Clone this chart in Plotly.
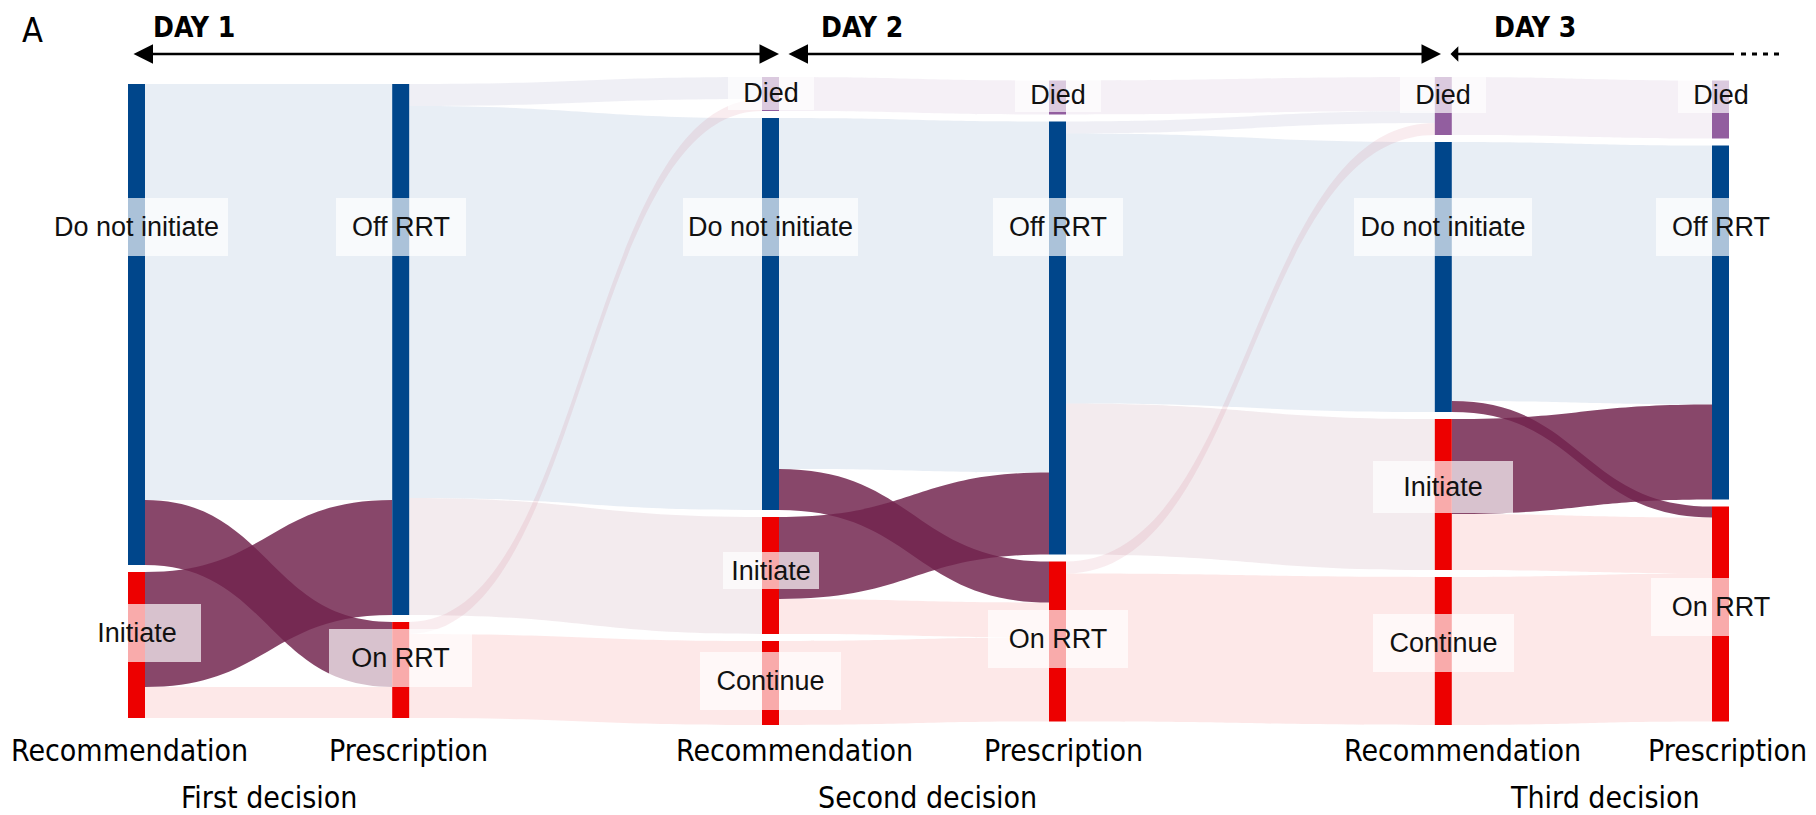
import plotly.graph_objects as go

# ---------------- data ----------------
node_names = ["Do not initiate", "Initiate",                      # day 1 recommendation
              "Off RRT", "On RRT",                                # day 1 prescription
              "Died", "Do not initiate", "Initiate", "Continue",  # day 2 recommendation
              "Died", "Off RRT", "On RRT",                        # day 2 prescription
              "Died", "Do not initiate", "Initiate", "Continue",  # day 3 recommendation
              "Died", "Off RRT", "On RRT"]                        # day 3 prescription
node_column = [0, 0, 1, 1, 2, 2, 2, 2, 3, 3, 3, 4, 4, 4, 4, 5, 5, 5]
node_kind = ["off", "on", "off", "on", "died", "off", "on", "on", "died", "off", "on",
             "died", "off", "on", "on", "died", "off", "on"]

link_source = [0, 0, 1, 1,
               2, 2, 2, 3, 3,
               4, 5, 5, 6, 6, 7,
               8, 9, 9, 9, 10, 10,
               11, 12, 12, 13, 13, 14]
link_target = [2, 3, 2, 3,
               4, 5, 6, 4, 7,
               8, 9, 10, 9, 10, 10,
               11, 11, 12, 13, 11, 14,
               15, 16, 17, 16, 17, 17]
link_value = [416, 65, 115, 31,
              22, 392, 117, 12, 84,
              34, 351, 41, 82, 35, 84,
              34, 12, 270, 151, 12, 148,
              58, 259, 11, 95, 56, 148]

column_names = ["Recommendation", "Prescription"] * 3
decision_names = ["First decision", "Second decision", "Third decision"]
day_names = ["DAY 1", "DAY 2", "DAY 3"]

# ---------------- layout / style (screen pixels) ----------------
OFF = 8                      # page margin around the figure
FW, FH = 1808, 807           # figure size


def px(sx):
    return (sx - OFF) / FW


def py(sy):
    return 1 - (sy - OFF) / FH


col_x_px = [136.5, 400.7, 770.5, 1057.5, 1443.3, 1720.5]
dom_top, dom_h = 77, 648
pad = 7
thickness = 17

rgb = {"off": (0, 70, 139), "on": (237, 0, 0), "died": (146, 94, 159)}

n = len(node_names)
vin = [0] * n
vout = [0] * n
for s, t, v in zip(link_source, link_target, link_value):
    vout[s] += v
    vin[t] += v
node_val = [max(a, b) for a, b in zip(vin, vout)]
col_nodes = [[i for i in range(n) if node_column[i] == c] for c in range(6)]
ky = min((dom_h - (len(cn) - 1) * pad) / sum(node_val[i] for i in cn) for cn in col_nodes)
node_y = [0.0] * n
for cn in col_nodes:
    total = sum(node_val[i] for i in cn) * ky + (len(cn) - 1) * pad
    y = dom_h / 2 - total / 2
    for i in cn:
        h = node_val[i] * ky
        node_y[i] = (y + h / 2) / dom_h
        y += h + pad
node_x = [px(col_x_px[c]) for c in node_column]

node_color = ["rgb(%d,%d,%d)" % rgb[k] for k in node_kind]
link_color = []
for s, t in zip(link_source, link_target):
    a, b = rgb[node_kind[s]], rgb[node_kind[t]]
    mix = tuple(int((x + y) / 2) for x, y in zip(a, b))
    strong = node_column[s] % 2 == 0 and node_kind[s] != node_kind[t]
    if strong:
        link_color.append("rgba(113,36,78,0.84)")
    else:
        link_color.append("rgba(%d,%d,%d,0.09)" % mix)

fig = go.Figure(go.Sankey(
    arrangement="fixed",
    domain=dict(x=[0, 1], y=[py(dom_top + dom_h), py(dom_top)]),
    node=dict(label=[""] * n, x=node_x, y=node_y, pad=pad, thickness=thickness,
              color=node_color, line=dict(width=0), hoverinfo="none"),
    link=dict(source=link_source, target=link_target, value=link_value,
              color=link_color, hoverinfo="none"),
))

# node labels (white translucent boxes centred on nodes)
label_y_px = [227, 633, 227, 658, 93, 227, 570, 681, 95, 227, 639, 95, 227, 487, 643, 95, 227, 607]
label_box_w = [183, 128, 130, 143, 86, 175, 96, 141, 86, 130, 140, 86, 178, 140, 141, 86, 130, 140]
label_box_h = [58, 58, 58, 58, 34, 58, 37, 58, 34, 58, 58, 36, 58, 52, 58, 36, 58, 58]
ann = []
for i in range(n):
    ann.append(dict(x=node_x[i], y=py(label_y_px[i]), xref="paper", yref="paper",
                    text=node_names[i], showarrow=False, xanchor="center", yanchor="middle",
                    width=label_box_w[i], height=label_box_h[i], borderpad=0, borderwidth=0,
                    bgcolor="rgba(255,255,255,0.67)",
                    font=dict(family="Arial, Liberation Sans, sans-serif", size=27, color="#111")))

narrow = "DejaVu Sans Condensed, Liberation Sans Narrow, sans-serif"
col_label_x = [130, 408, 794, 1063, 1462, 1727]
for cx, name in zip(col_label_x, column_names):
    ann.append(dict(x=px(cx), y=py(750), xref="paper", yref="paper", text=name,
                    showarrow=False, xanchor="center", yanchor="middle",
                    font=dict(family=narrow, size=30, color="#000")))
dec_x = [269, 927, 1605]
for cx, name in zip(dec_x, decision_names):
    ann.append(dict(x=px(cx), y=py(797), xref="paper", yref="paper", text=name,
                    showarrow=False, xanchor="center", yanchor="middle",
                    font=dict(family=narrow, size=30, color="#000")))
day_x = [194, 862, 1535]
for cx, name in zip(day_x, day_names):
    ann.append(dict(x=px(cx), y=py(27), xref="paper", yref="paper", text="<b>%s</b>" % name,
                    showarrow=False, xanchor="center", yanchor="middle",
                    font=dict(family=narrow, size=28, color="#000")))
ann.append(dict(x=px(32), y=1, xref="paper", yref="paper", text="A", showarrow=False,
                xanchor="center", yanchor="top", font=dict(family=narrow, size=34, color="#000")))

# day arrows
arrow_y = py(54)
arrows = [(132, 779, "end+start"), (787, 1441, "end+start"), (1449, 1734, "start")]
for x0, x1, side in arrows:
    ann.append(dict(x=px(x1), y=arrow_y, xref="paper", yref="paper", ax=x0 - x1, ay=0,
                    axref="pixel", ayref="pixel", text="", showarrow=True, arrowhead=2,
                    arrowsize=1.5, arrowwidth=2.6, arrowcolor="#000", arrowside=side,
                    standoff=0, startstandoff=0))

shapes = [dict(type="line", xref="paper", yref="paper", x0=px(1741), x1=px(1780),
               y0=arrow_y, y1=arrow_y, line=dict(color="#000", width=3, dash="5px,6px"))]

fig.update_layout(width=FW, height=FH, margin=dict(l=0, r=0, t=0, b=0),
                  paper_bgcolor="white", plot_bgcolor="white",
                  annotations=ann, shapes=shapes, showlegend=False)
fig.write_html("out.html")
